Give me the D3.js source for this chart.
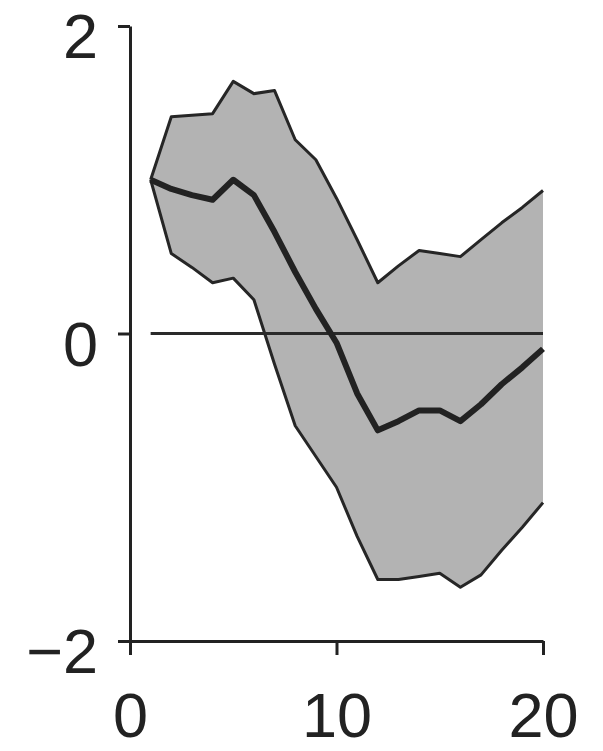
<!DOCTYPE html>
<html>
<head>
<meta charset="utf-8">
<script src="https://cdn.jsdelivr.net/npm/d3@7"></script>
<style>
  html, body { margin: 0; padding: 0; background: #fff; }
  svg { display: block; }
</style>
</head>
<body>
<svg id="chart" width="603" height="751"></svg>
<script>
const xValues = [1, 2, 3, 4, 5, 6, 7, 8, 9, 10, 11, 12, 13, 14, 15, 16, 17, 18, 19, 20];
const meanValues = [1.0, 0.94, 0.9, 0.87, 1.0, 0.9, 0.66, 0.4, 0.16, -0.06, -0.39, -0.63, -0.57, -0.5, -0.5, -0.57, -0.46, -0.33, -0.22, -0.1];
const upperValues = [1.0, 1.41, 1.42, 1.43, 1.64, 1.56, 1.58, 1.26, 1.13, 0.88, 0.61, 0.33, 0.44, 0.54, 0.52, 0.5, 0.61, 0.72, 0.82, 0.93];
const lowerValues = [1.0, 0.52, 0.43, 0.33, 0.36, 0.22, -0.2, -0.6, -0.8, -1.0, -1.32, -1.6, -1.6, -1.58, -1.56, -1.65, -1.57, -1.41, -1.26, -1.1];
const xTicks = [0, 10, 20];
const yTicks = [-2, 0, 2];

const svg = d3.select("#chart");
const x = d3.scaleLinear().domain([0, 20]).range([130, 543]);
const y = d3.scaleLinear().domain([-2, 2]).range([641, 26]);

const rows = xValues.map((v, i) => ({ x: v, m: meanValues[i], u: upperValues[i], l: lowerValues[i] }));

// band fill
svg.append("path")
  .datum(rows)
  .attr("d", d3.area().x(d => x(d.x)).y0(d => y(d.l)).y1(d => y(d.u)))
  .attr("fill", "#b3b3b3")
  .attr("stroke", "none");

// band edges
["u", "l"].forEach(k => {
  svg.append("path")
    .datum(rows)
    .attr("d", d3.line().x(d => x(d.x)).y(d => y(d[k])))
    .attr("fill", "none")
    .attr("stroke", "#262626")
    .attr("stroke-width", 3)
    .attr("stroke-linejoin", "round");
});

// zero line
svg.append("line")
  .attr("x1", x(xValues[0])).attr("x2", x(xValues[xValues.length - 1]))
  .attr("y1", y(0)).attr("y2", y(0))
  .attr("stroke", "#2a2a2a").attr("stroke-width", 3);

// mean line
svg.append("path")
  .datum(rows)
  .attr("d", d3.line().x(d => x(d.x)).y(d => y(d.m)))
  .attr("fill", "none")
  .attr("stroke", "#222")
  .attr("stroke-width", 6)
  .attr("stroke-linejoin", "round");

const fontFamily = "'Liberation Sans', Arial, Helvetica, sans-serif";
const fontSize = 63;

// y axis
const yAxis = svg.append("g")
  .attr("transform", `translate(${x(0)},0)`)
  .call(d3.axisLeft(y).tickValues(yTicks).tickSize(12).tickSizeOuter(0).tickPadding(20).tickFormat(d3.format("d")));
yAxis.select(".domain").attr("stroke", "#222").attr("stroke-width", 3);
yAxis.selectAll(".tick line").attr("stroke", "#222").attr("stroke-width", 3);
yAxis.selectAll(".tick text")
  .attr("font-family", fontFamily).attr("font-size", fontSize)
  .attr("fill", "#222").attr("dy", "0.5em");

// x axis
const xAxis = svg.append("g")
  .attr("transform", `translate(0,${y(-2)})`)
  .call(d3.axisBottom(x).tickValues(xTicks).tickSize(14).tickSizeOuter(0).tickPadding(37).tickFormat(d3.format("d")));
xAxis.select(".domain").attr("stroke", "#222").attr("stroke-width", 3);
xAxis.selectAll(".tick line").attr("stroke", "#222").attr("stroke-width", 3);
xAxis.selectAll(".tick text")
  .attr("font-family", fontFamily).attr("font-size", fontSize)
  .attr("fill", "#222");
</script>
</body>
</html>
